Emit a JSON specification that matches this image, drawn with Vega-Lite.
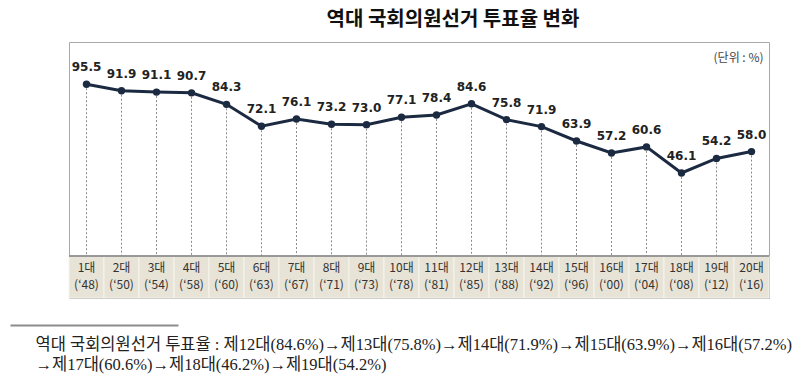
{
  "$schema": "https://vega.github.io/schema/vega-lite/v6.json",
  "autosize": {"type": "none"},
  "width": 700,
  "height": 256,
  "padding": {"left": 69, "top": 42, "right": 31, "bottom": 84},
  "background": "white",
  "title": {
    "text": "역대 국회의원선거 투표율 변화",
    "anchor": "middle",
    "dx": 34,
    "offset": 12,
    "font": "Noto Sans CJK KR",
    "fontSize": 20,
    "fontWeight": "bold",
    "color": "#111111"
  },
  "data": {
    "values": [
      {"n": "1대", "yr": "(‘48)", "rate": 95.5},
      {"n": "2대", "yr": "(‘50)", "rate": 91.9},
      {"n": "3대", "yr": "(‘54)", "rate": 91.1},
      {"n": "4대", "yr": "(‘58)", "rate": 90.7},
      {"n": "5대", "yr": "(‘60)", "rate": 84.3},
      {"n": "6대", "yr": "(‘63)", "rate": 72.1},
      {"n": "7대", "yr": "(‘67)", "rate": 76.1},
      {"n": "8대", "yr": "(‘71)", "rate": 73.2},
      {"n": "9대", "yr": "(‘73)", "rate": 73.0},
      {"n": "10대", "yr": "(‘78)", "rate": 77.1},
      {"n": "11대", "yr": "(‘81)", "rate": 78.4},
      {"n": "12대", "yr": "(‘85)", "rate": 84.6},
      {"n": "13대", "yr": "(‘88)", "rate": 75.8},
      {"n": "14대", "yr": "(‘92)", "rate": 71.9},
      {"n": "15대", "yr": "(‘96)", "rate": 63.9},
      {"n": "16대", "yr": "(‘00)", "rate": 57.2},
      {"n": "17대", "yr": "(‘04)", "rate": 60.6},
      {"n": "18대", "yr": "(‘08)", "rate": 46.1},
      {"n": "19대", "yr": "(‘12)", "rate": 54.2},
      {"n": "20대", "yr": "(‘16)", "rate": 58.0}
    ]
  },
  "encoding": {
    "x": {
      "field": "n",
      "type": "nominal",
      "sort": null,
      "scale": {"type": "band", "paddingInner": 0, "paddingOuter": 0},
      "axis": {
        "orient": "bottom",
        "position": -59,
        "offset": 27,
        "labels": false,
        "ticks": false,
        "grid": false,
        "domain": true,
        "domainColor": "#8c8c8c",
        "domainWidth": 2,
        "domainDash": [168, 2000],
        "title": [
          "역대 국회의원선거 투표율 : 제12대(84.6%)→제13대(75.8%)→제14대(71.9%)→제15대(63.9%)→제16대(57.2%)",
          "→제17대(60.6%)→제18대(46.2%)→제19대(54.2%)"
        ],
        "titleX": 25,
        "titleY": 11,
        "titleAlign": "left",
        "titleBaseline": "top",
        "titleFont": "Liberation Serif, Noto Sans CJK KR",
        "titleFontSize": 16.5,
        "titleFontWeight": "normal",
        "titleLineHeight": 20,
        "titleColor": "#222222"
      }
    },
    "y": {
      "field": "rate",
      "type": "quantitative",
      "scale": {"domain": [-23.5, 119], "nice": false, "zero": false},
      "axis": {
        "orient": "right",
        "title": "(단위 : %)",
        "labels": false,
        "ticks": false,
        "domain": false,
        "grid": false,
        "titleAngle": 0,
        "titleX": -6,
        "titleY": 15,
        "titleAlign": "right",
        "titleBaseline": "middle",
        "titleFont": "Noto Sans CJK KR",
        "titleFontSize": 12,
        "titleFontWeight": "normal",
        "titleColor": "#444444"
      }
    }
  },
  "layer": [
    {
      "mark": {"type": "rect", "fill": "#e7e3d6", "stroke": "#f6f4ee", "strokeWidth": 1},
      "encoding": {
        "y": {"datum": 0},
        "y2": {"datum": -23.5}
      }
    },
    {
      "mark": {"type": "rule", "color": "#9a9a9a", "strokeWidth": 1},
      "encoding": {
        "x": {"value": 0},
        "x2": {"value": 700},
        "y": {"datum": 0}
      }
    },
    {
      "mark": {"type": "rule", "color": "#8a8a8a", "strokeWidth": 1, "strokeDash": [2, 2]},
      "encoding": {
        "y2": {"datum": 0}
      }
    },
    {
      "mark": {"type": "line", "color": "#1b2a41", "strokeWidth": 3}
    },
    {
      "mark": {"type": "circle", "color": "#1b2a41", "size": 55, "opacity": 1}
    },
    {
      "mark": {"type": "text", "dy": -17, "baseline": "middle", "font": "DejaVu Sans", "fontSize": 12, "fontWeight": "bold", "color": "#222222"},
      "encoding": {
        "text": {"field": "rate", "type": "quantitative", "format": ".1f"}
      }
    },
    {
      "mark": {"type": "text", "baseline": "middle", "font": "Noto Sans CJK KR", "fontSize": 12, "color": "#333333"},
      "encoding": {
        "y": {"datum": -6.8},
        "text": {"field": "n"}
      }
    },
    {
      "mark": {"type": "text", "baseline": "middle", "font": "Noto Sans CJK KR", "fontSize": 12, "color": "#333333"},
      "encoding": {
        "y": {"datum": -16.3},
        "text": {"field": "yr"}
      }
    }
  ],
  "config": {
    "view": {"stroke": "#a8a8a8", "strokeWidth": 1}
  }
}
